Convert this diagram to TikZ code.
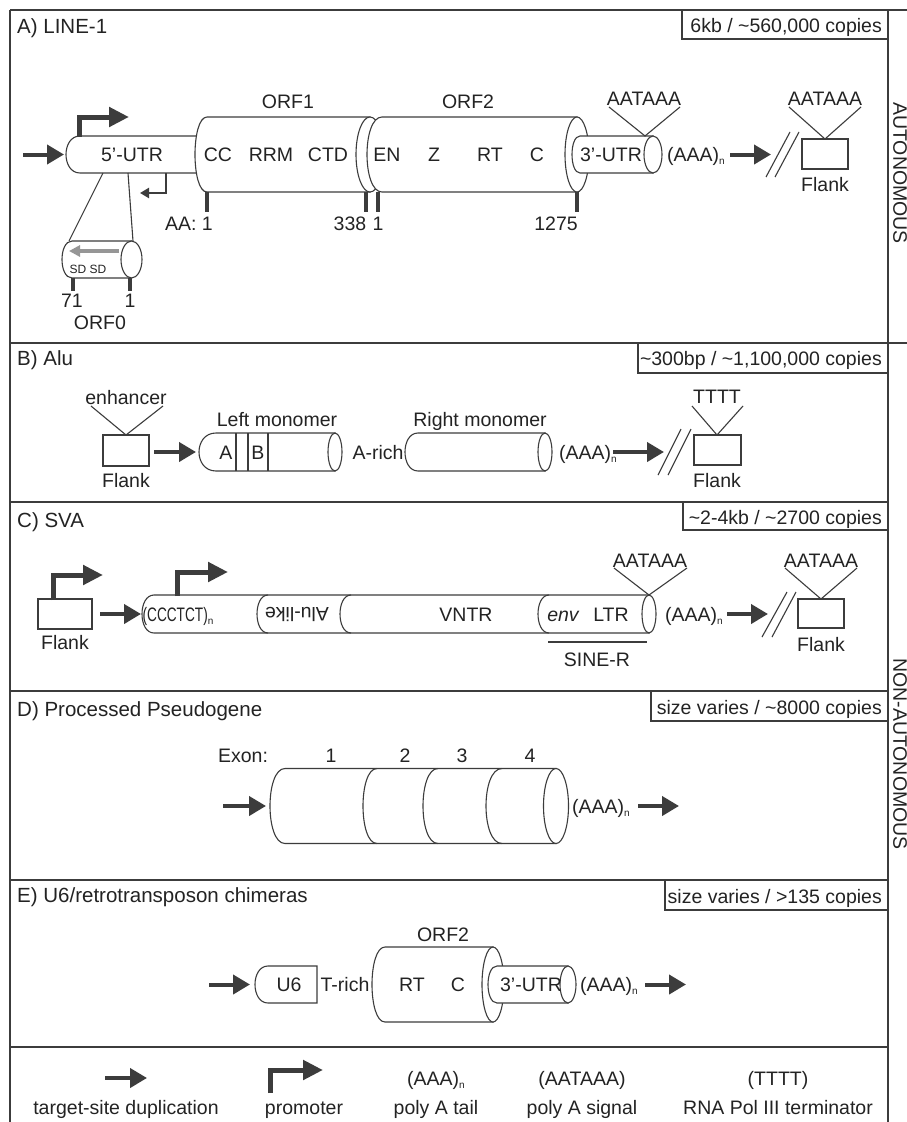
\documentclass[tikz,border=0pt]{standalone}
\usepackage{fontspec}
\setmainfont{Liberation Sans}
\usetikzlibrary{arrows.meta}
\definecolor{dk}{RGB}{60,60,60}
\definecolor{txt}{RGB}{35,35,35}
\definecolor{ga}{RGB}{150,150,150}
\newcommand\cylbody[6]{%
  \filldraw[shp] (#1,#3-#4) .. controls (#1-1.3333*#5,#3-#4) and (#1-1.3333*#5,#3+#4) .. (#1,#3+#4) -- (#2,#3+#4) -- (#2,#3-#4) -- cycle;
  \filldraw[shp] (#2,#3) ellipse[x radius=#6pt, y radius=#4pt];}
\newcommand\capbody[5]{%
  \filldraw[shp] (#1,#3-#4) .. controls (#1-1.3333*#5,#3-#4) and (#1-1.3333*#5,#3+#4) .. (#1,#3+#4) -- (#2,#3+#4) -- (#2,#3-#4) -- cycle;}
\newcommand\divarc[4]{%
  \draw[shp,fill=none] (#1,#2-#3) .. controls (#1-1.3333*#4,#2-#3) and (#1-1.3333*#4,#2+#3) .. (#1,#2+#3);}
\newcommand\subn{\raisebox{-0.35ex}{\fontsize{10}{10}\selectfont n}}
\begin{document}
\begin{tikzpicture}[x=1pt,y=-1pt,
  every node/.style={font=\fontsize{19.5}{22}\selectfont, inner sep=0pt, text=txt},
  bl/.style={anchor=base},
  blw/.style={anchor=base west},
  ble/.style={anchor=base east},
  ttl/.style={anchor=base west, font=\fontsize{20.5}{23}\selectfont},
  shp/.style={draw=dk, fill=white, line width=1.1pt},
  frame/.style={draw=dk, line width=1.6pt},
  ln/.style={draw=dk, line width=1.1pt},
  hbox/.style={draw=dk, line width=1.1pt},
  tsd/.style={draw=dk, line width=4pt, -{Triangle[length=17pt,width=19pt]}},
  prom/.style={draw=dk, line width=5pt, line join=miter, -{Triangle[length=20pt,width=19pt]}},
  tk/.style={draw=dk, line width=3.5pt},
  small/.style={font=\fontsize{12}{12}\selectfont}]
\useasboundingbox (0,0) rectangle (907,1122);
\fill[white] (0,0) rectangle (907,1122);
% ---------- frame ----------
\draw[frame] (10,10) -- (907,10);
\draw[frame] (10,10) -- (10,1122);
\draw[frame] (888,10) -- (888,1122);
\draw[frame] (10,343) -- (907,343);
\draw[frame] (10,502) -- (888,502);
\draw[frame] (10,691) -- (888,691);
\draw[frame] (10,880) -- (888,880);
\draw[frame] (10,1047) -- (888,1047);
\node[rotate=-90] (auto) at (900,173) {AUTONOMOUS};
\node[rotate=-90] (nonauto) at (900,754) {NON-AUTONOMOUS};
% ---------- A) LINE-1 ----------
\node[ttl] (tA) at (17,33) {A) LINE-1};
\draw[hbox] (682,10) rectangle (888,39);
\node[ble] (hA) at (882,32) {6kb / \textasciitilde560,000 copies};
\draw[tsd] (23,154.5) -- (64,154.5);
\capbody{80}{215}{154.5}{18.5}{14}
\node[bl] (utr5) at (132,161) {5’-UTR};
\draw[prom] (79,137) -- (79,117) -- (129,117);
\draw[dk, line width=2.5pt, line join=miter, -{Triangle[length=9pt,width=10pt]}] (166,173) -- (166,193) -- (140,193);
\draw[ln] (103,173) -- (69,241);
\draw[ln] (128,173) -- (133,241);
\cylbody{72}{131.5}{259.5}{18.5}{10}{10.5}
\draw[ga, line width=4pt, -{Triangle[length=11pt,width=11pt]}] (119,251) -- (69,251);
\node[bl,small] (sd) at (88,273) {SD SD};
\draw[tk] (73,278) -- (73,291);
\draw[tk] (130,278) -- (130,291);
\node[bl] (n71) at (72,307) {71};
\node[bl] (n1a) at (130,307) {1};
\node[bl] (orf0) at (100,329) {ORF0};
\cylbody{207}{370}{154.5}{37.5}{12}{14}
\cylbody{382}{577}{154.5}{37.5}{15}{12}
\cylbody{580}{653}{154.5}{18.5}{8}{9}
\node[bl] (orf1) at (288,108) {ORF1};
\node[bl] (orf2) at (468,108) {ORF2};
\node[bl] (cc) at (218,161) {CC};
\node[bl] (rrm) at (271,161) {RRM};
\node[bl] (ctd) at (328,161) {CTD};
\node[bl] (en) at (387,161) {EN};
\node[bl] (z) at (434,161) {Z};
\node[bl] (rt) at (490,161) {RT};
\node[bl] (c) at (537,161) {C};
\node[bl] (utr3) at (611,161) {3’-UTR};
\draw[tk] (207,192) -- (207,212);
\draw[tk] (366,192) -- (366,212);
\draw[tk] (378,192) -- (378,212);
\draw[tk] (577,192) -- (577,212);
\node[ble] (aa) at (213,230) {AA: 1};
\node[bl] (n338) at (350,230) {338};
\node[bl] (n1b) at (378,230) {1};
\node[bl] (n1275) at (556,230) {1275};
\draw[ln] (609,107) -- (645,136) -- (680,107);
\node[bl] (aatA) at (644,105) {AATAAA};
\node[blw] (polyA) at (667,161) {(AAA)\subn};
\draw[tsd] (730,154.5) -- (771,154.5);
\draw[ln] (766,177) -- (790,132);
\draw[ln] (775,177) -- (799,132);
\draw[shp] (802,139) rectangle (848,169);
\draw[ln] (789,107) -- (825,139) -- (861,107);
\node[bl] (aatA2) at (825,105) {AATAAA};
\node[bl] (flA) at (825,191) {Flank};
% ---------- B) Alu ----------
\node[ttl] (tB) at (17,365) {B) Alu};
\draw[hbox] (638,343) rectangle (888,373);
\node[ble] (hB) at (882,365) {\textasciitilde300bp / \textasciitilde1,100,000 copies};
\draw[shp] (103,435) rectangle (149,466);
\draw[ln] (91,406) -- (126,435) -- (163,406);
\node[bl] (enh) at (126,404) {enhancer};
\node[bl] (flB) at (126,487) {Flank};
\draw[tsd] (154,452) -- (196,452);
\cylbody{216}{335}{452}{19}{17}{7}
\draw[ln] (236,433) -- (236,471);
\draw[ln] (248,433) -- (248,471);
\draw[ln] (268,433) -- (268,471);
\node[bl] (la) at (226,459) {A};
\node[bl] (lb) at (258,459) {B};
\node[bl] (lm) at (277,426) {Left monomer};
\node[bl] (arich) at (378,459) {A-rich};
\cylbody{418}{545}{452}{19}{13}{7}
\node[bl] (rm) at (480,426) {Right monomer};
\node[blw] (polyB) at (559,459) {(AAA)\subn};
\draw[tsd] (613,452) -- (664,452);
\draw[ln] (658,475) -- (681,429);
\draw[ln] (668,475) -- (691,429);
\draw[shp] (694,435) rectangle (741,465);
\draw[ln] (692,406) -- (717,435) -- (743,406);
\node[bl] (tttt) at (717,403) {TTTT};
\node[bl] (flB2) at (717,487) {Flank};
% ---------- C) SVA ----------
\node[ttl] (tC) at (17,527) {C) SVA};
\draw[hbox] (683,502) rectangle (888,530);
\node[ble] (hC) at (882,524) {\textasciitilde2-4kb / \textasciitilde2700 copies};
\draw[shp] (38,599) rectangle (92,629);
\draw[prom] (53,600) -- (53,575) -- (103,575);
\node[bl] (flC) at (65,649) {Flank};
\draw[tsd] (100,614) -- (141,614);
\cylbody{154}{649}{614}{19}{12}{7}
\divarc{268}{614}{19}{11}
\divarc{351}{614}{19}{11}
\divarc{549}{614}{19}{11}
\draw[prom] (177,596) -- (177,572) -- (228,572);
\node[bl] (ccc) at (178,621) {\scalebox{0.7}[1]{(CCCTCT)}\subn};
\node[rotate=180] (alu) at (297,614) {Alu-like};
\node[bl] (vntr) at (466,621) {VNTR};
\node[bl] (env) at (563,621) {\itshape env};
\node[bl] (ltr) at (611,621) {LTR};
\draw[ln] (548,642) -- (647,642);
\node[bl] (siner) at (597,666) {SINE-R};
\draw[ln] (614,568) -- (649,595) -- (687,568);
\node[bl] (aatC) at (650,567) {AATAAA};
\node[blw] (polyC) at (665,621) {(AAA)\subn};
\draw[tsd] (727,614) -- (768,614);
\draw[ln] (762,637) -- (787,592);
\draw[ln] (772,637) -- (796,592);
\draw[shp] (798,599) rectangle (844,628);
\draw[ln] (785,568) -- (821,599) -- (857,568);
\node[bl] (aatC2) at (821,567) {AATAAA};
\node[bl] (flC2) at (821,651) {Flank};
% ---------- D) Processed Pseudogene ----------
\node[ttl] (tD) at (17,716) {D) Processed Pseudogene};
\draw[hbox] (651,691) rectangle (888,721);
\node[ble] (hD) at (882,714) {size varies / \textasciitilde8000 copies};
\draw[tsd] (223,806) -- (266,806);
\cylbody{285}{556}{806}{37.5}{15}{12.5}
\divarc{377}{806}{37.5}{14}
\divarc{438}{806}{37.5}{15}
\divarc{502}{806}{37.5}{16}
\node[bl] (exon) at (243,762) {Exon:};
\node[bl] (e1) at (331,762) {1};
\node[bl] (e2) at (405,762) {2};
\node[bl] (e3) at (462,762) {3};
\node[bl] (e4) at (530,762) {4};
\node[blw] (polyD) at (572,813) {(AAA)\subn};
\draw[tsd] (638,806) -- (679,806);
% ---------- E) U6 chimeras ----------
\node[ttl] (tE) at (17,902) {E) U6/retrotransposon chimeras};
\draw[hbox] (665,880) rectangle (888,910);
\node[ble] (hE) at (882,903) {size varies / >135 copies};
\draw[tsd] (209,984.5) -- (250,984.5);
\capbody{268}{317}{984.5}{18.5}{13}
\node[bl] (u6) at (289,991) {U6};
\node[bl] (trich) at (345,991) {T-rich};
\cylbody{385}{493}{984.5}{37.5}{13}{11}
\node[bl] (orf2e) at (443,941) {ORF2};
\node[bl] (rte) at (412,991) {RT};
\node[bl] (ce) at (458,991) {C};
\cylbody{497}{568}{984.5}{18.5}{9}{8}
\node[bl] (utr3e) at (531,991) {3’-UTR};
\node[blw] (polyE) at (580,991) {(AAA)\subn};
\draw[tsd] (645,984.5) -- (686,984.5);
% ---------- legend ----------
\draw[tsd] (105,1078) -- (147,1078);
\node[bl] (lg1) at (126,1114) {target-site duplication};
\draw[prom] (270,1093) -- (270,1070) -- (323,1070);
\node[bl] (lg2) at (304,1114) {promoter};
\node[bl] (lg3a) at (436,1085) {(AAA)\subn};
\node[bl] (lg3) at (436,1114) {poly A tail};
\node[bl] (lg4a) at (582,1085) {(AATAAA)};
\node[bl] (lg4) at (582,1114) {poly A signal};
\node[bl] (lg5a) at (778,1085) {(TTTT)};
\node[bl] (lg5) at (778,1114) {RNA Pol III terminator};
\end{tikzpicture}
\end{document}
